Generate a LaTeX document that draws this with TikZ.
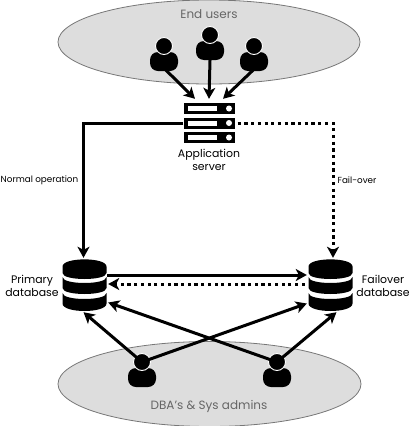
\documentclass[tikz,border=0pt]{standalone}
\usepackage{fontspec}
\setmainfont{Poppins}
\usepackage{xcolor}
\usetikzlibrary{positioning, arrows.meta, shapes.geometric}
\definecolor{ZoneFill}{HTML}{DDDDDD}
\definecolor{ZoneLine}{HTML}{777777}
\definecolor{ZoneText}{HTML}{666666}

\begin{document}
\begin{tikzpicture}[
  x=1pt, y=-1pt,
  font=\fontsize{10.9pt}{13pt}\selectfont,
  zone/.style={draw=ZoneLine, fill=ZoneFill, line width=0.8pt},
  zonelabel/.style={text=ZoneText, inner sep=0pt, font=\fontsize{12pt}{14pt}\selectfont},
  caption/.style={align=center, inner sep=0pt},
  note/.style={caption, font=\fontsize{8.8pt}{10pt}\selectfont},
  arr/.style={-{Stealth[length=11pt, width=12pt, inset=3pt]}, line width=3pt},
  dotarr/.style={arr, dash pattern=on 3.2pt off 3.5pt},
  person/.pic={
    \fill[rounded corners=8pt] (-14,17) -- (-14,-2) -- (14,-2) -- (14,17) -- cycle;
    \fill[draw=white, line width=0.9pt] (0,-8) circle[radius=8.5];
    \coordinate (-head) at (0,-8);
    \node[minimum width=28pt, minimum height=33pt, inner sep=0pt] (-box) at (0,0.5) {};
  },
  rack/.pic={
    \fill (-25.5,-5.5) rectangle (25.5,5.5);
    \fill[white] (-21.5,-2.5) rectangle (8,2.5);
    \fill[white] (20,0) circle[radius=3];
  },
  server/.pic={
    \pic at (0,-14.5) {rack};
    \pic at (0,0) {rack};
    \pic at (0,14.5) {rack};
    \node[minimum width=51pt, minimum height=40pt, inner sep=0pt] (-box) at (0,0) {};
  },
  database/.pic={
    \fill (-22,-19) .. controls (-22,-28.5) and (22,-28.5) .. (22,-19) -- (22,-12.5) .. controls (22,-4.5) and (-22,-4.5) .. (-22,-12.5) -- cycle;
    \fill (-22,-8.5) .. controls (-22,-0.5) and (22,-0.5) .. (22,-8.5) -- (22,2.5) .. controls (22,10.5) and (-22,10.5) .. (-22,2.5) -- cycle;
    \fill (-22,7.5) .. controls (-22,15.5) and (22,15.5) .. (22,7.5) -- (22,18) .. controls (22,28) and (-22,28) .. (-22,18) -- cycle;
    \node[minimum width=45pt, minimum height=51pt, inner sep=0pt] (-box) at (0,0) {};
  }
]
\useasboundingbox (0,0) rectangle (410,426);
\fill[white] (0,0) rectangle (410,426);
\node[zone, ellipse, minimum width=302pt, minimum height=84pt, inner sep=0pt] (clients) at (209,42) {};
\node[zone, ellipse, minimum width=303pt, minimum height=85pt, inner sep=0pt] (admins) at (209.5,384) {};
\node[zonelabel] (clientslabel) at (209,14) {End users};
\node[zonelabel] (adminslabel) at (209,406) {DBA's \& Sys admins};

\pic (usrA) at (164,54) {person};
\pic (usrB) at (210,43) {person};
\pic (usrC) at (254,54) {person};
\pic (dba) at (142,370) {person};
\pic (sys) at (277,370) {person};
\pic (srv) at (209,123) {server};
\pic (primary) at (84.5,285.5) {database};
\pic (failover) at (330.5,285.5) {database};

\node[caption, below=6pt of srv-box] (srvlabel) {Application\\server};
\node[caption, left=3pt of primary-box] (primarylabel) {Primary\\database};
\node[caption, right=3pt of failover-box] (failoverlabel) {Failover\\database};
\node[note] (normal) at (39.5,180) {Normal operation};
\node[note] (failnote) at (357,180) {Fail-over};

\draw[arr] (usrA-box.south) ++(2,-1) -- ([xshift=-14pt,yshift=4pt]srv-box.north);
\draw[arr] (usrB-box.south) -- ([yshift=4pt]srv-box.north);
\draw[arr] (usrC-box.south) ++(-1,-1) -- ([xshift=14pt,yshift=4pt]srv-box.north);
\draw[arr] (srv-box.west) -| ([xshift=-1pt,yshift=2pt]primary-box.north);
\draw[dotarr] ([xshift=3pt]srv-box.east) -| ([xshift=2.5pt,yshift=2pt]failover-box.north);
\draw[arr] ([yshift=10.5pt]primary-box.east) -- ([xshift=-1pt,yshift=10.5pt]failover-box.west);
\draw[dotarr] ([xshift=-3pt,yshift=1.5pt]failover-box.west) -- ([xshift=1pt,yshift=1.5pt]primary-box.east);
\draw[arr] (dba-head) -- ([xshift=-1pt,yshift=-1pt]primary-box.south);
\draw[arr] (dba-head) -- ([xshift=-1pt,yshift=-18pt]failover-box.west);
\draw[arr] (sys-head) -- ([xshift=1pt,yshift=-17pt]primary-box.east);
\draw[arr] (sys-head) -- ([xshift=6pt,yshift=-1pt]failover-box.south);
\end{tikzpicture}
\end{document}
